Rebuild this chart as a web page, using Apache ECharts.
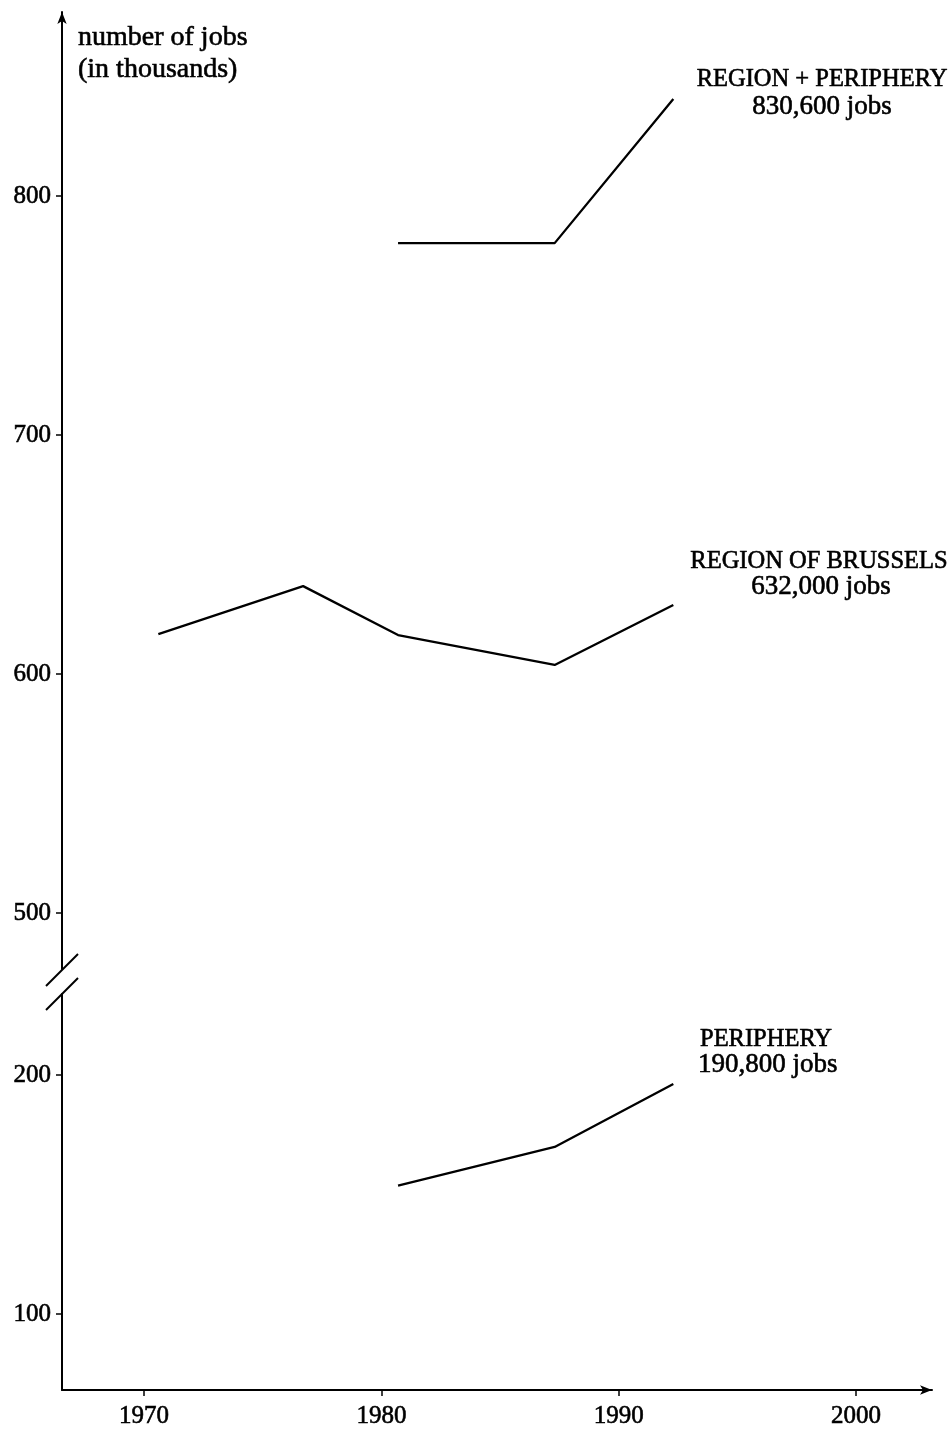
<!DOCTYPE html>
<html>
<head>
<meta charset="utf-8">
<script src="https://cdn.jsdelivr.net/npm/echarts@6/dist/echarts.min.js"></script>
<style>
html,body{margin:0;padding:0;background:#fff;}
#chart{width:952px;height:1432px;}
</style>
</head>
<body>
<div id="chart"></div>
<script>
// ---- data ----
const yearTicks = [1970, 1980, 1990, 2000];
const upperTicks = [500, 600, 700, 800];
const lowerTicks = [100, 200];

const totalYears = [1980.7, 1987.3, 1992.3];
const totalJobs = [780.3, 780.3, 840.6];

const brusselsYears = [1970.6, 1976.7, 1980.7, 1987.3, 1992.3];
const brusselsJobs = [616.7, 636.8, 616.3, 603.8, 628.9];

const peripheryYears = [1980.7, 1987.3, 1992.3];
const peripheryJobs = [153.7, 169.9, 196.2];

const axisTitle = ['number of jobs', '(in thousands)'];
const totalLabel = ['REGION + PERIPHERY', '830,600 jobs'];
const brusselsLabel = ['REGION OF BRUSSELS', '632,000 jobs'];
const peripheryLabel = ['PERIPHERY', '190,800 jobs'];

// ---- layout ----
const W = 952, H = 1432;
const LEFT = 62, RIGHT = 20;
const UP_TOP = 12, UP_BOTTOM_PX = 969;
const LO_TOP = 994, LO_BOTTOM_PX = 1390;
const SERIF = '"Liberation Serif", "DejaVu Serif", serif';
const BLACK = '#000';
const THICK = 0.6;

function zip(xs, ys) { return xs.map((x, i) => [x, ys[i]]); }

const axisLineStyle = { color: BLACK, width: 2 };

function yAxisCfg(gridIndex, min, max, ticks, arrow) {
  return {
    gridIndex, type: 'value', min, max,
    axisLine: { show: true, onZero: false, lineStyle: axisLineStyle,
      symbol: arrow ? ['none', 'arrow'] : ['none', 'none'], symbolSize: [7, 12] },
    axisTick: { show: true, customValues: ticks, length: 6, lineStyle: { color: BLACK, width: 1.5 } },
    axisLabel: { show: true, customValues: ticks, color: BLACK, fontFamily: SERIF, fontSize: 25, margin: 11,
      textBorderColor: BLACK, textBorderWidth: THICK, formatter: v => String(v) },
    splitLine: { show: false }
  };
}

const XMIN = 1966.54, XMAX = 2003.2;

const option = {
  animation: false,
  backgroundColor: '#fff',
  grid: [
    { left: LEFT, right: RIGHT, top: UP_TOP, bottom: H - UP_BOTTOM_PX },
    { left: LEFT, right: RIGHT, top: LO_TOP, bottom: H - LO_BOTTOM_PX }
  ],
  xAxis: [
    { gridIndex: 0, type: 'value', min: XMIN, max: XMAX, show: false, splitLine: { show: false } },
    { gridIndex: 1, type: 'value', min: XMIN, max: XMAX,
      axisLine: { show: true, onZero: false, lineStyle: axisLineStyle, symbol: ['none', 'arrow'], symbolSize: [7, 12] },
      axisTick: { show: true, customValues: yearTicks, length: 6, lineStyle: { color: BLACK, width: 1.5 } },
      axisLabel: { show: true, customValues: yearTicks, color: BLACK, fontFamily: SERIF, fontSize: 25, margin: 14,
        textBorderColor: BLACK, textBorderWidth: THICK, formatter: v => String(v) },
      splitLine: { show: false } }
  ],
  yAxis: [
    yAxisCfg(0, 476.6, 877.0, upperTicks, true),
    yAxisCfg(1, 68.2, 233.9, lowerTicks, false)
  ],
  series: [
    { name: 'Region + Periphery', type: 'line', xAxisIndex: 0, yAxisIndex: 0, data: zip(totalYears, totalJobs),
      symbol: 'none', lineStyle: { color: BLACK, width: 2.3 } },
    { name: 'Region of Brussels', type: 'line', xAxisIndex: 0, yAxisIndex: 0, data: zip(brusselsYears, brusselsJobs),
      symbol: 'none', lineStyle: { color: BLACK, width: 2.3 } },
    { name: 'Periphery', type: 'line', xAxisIndex: 1, yAxisIndex: 1, data: zip(peripheryYears, peripheryJobs),
      symbol: 'none', lineStyle: { color: BLACK, width: 2.3 } }
  ],
  graphic: []
};

function txt(text, x, y, size, align) {
  return { type: 'text', x, y, silent: true,
    style: { text, fill: BLACK, font: size + 'px ' + SERIF, textAlign: align || 'left', textVerticalAlign: 'middle',
      stroke: BLACK, lineWidth: THICK } };
}
function brk(cx, cy, d) {
  return { type: 'line', silent: true, shape: { x1: cx - d, y1: cy + d, x2: cx + d, y2: cy - d },
    style: { stroke: BLACK, lineWidth: 2 } };
}

option.graphic = [
  txt(axisTitle[0], 78, 38, 28),
  txt(axisTitle[1], 78, 70, 28),
  txt(totalLabel[0], 822, 80, 24.5, 'center'),
  txt(totalLabel[1], 822, 107, 27, 'center'),
  txt(brusselsLabel[0], 819, 562, 24.5, 'center'),
  txt(brusselsLabel[1], 821, 587, 27, 'center'),
  txt(peripheryLabel[0], 700, 1040, 24.5, 'left'),
  txt(peripheryLabel[1], 698, 1065, 27, 'left'),
  // axis break marks
  { type: 'rect', silent: true, shape: { x: LEFT - 3, y: UP_BOTTOM_PX, width: 6, height: LO_TOP - UP_BOTTOM_PX }, style: { fill: '#fff' } },
  brk(LEFT, UP_BOTTOM_PX + 1, 16),
  brk(LEFT, LO_TOP, 16)
];

const chart = echarts.init(document.getElementById('chart'), null, { renderer: 'canvas', width: W, height: H });
chart.setOption(option);
</script>
</body>
</html>
